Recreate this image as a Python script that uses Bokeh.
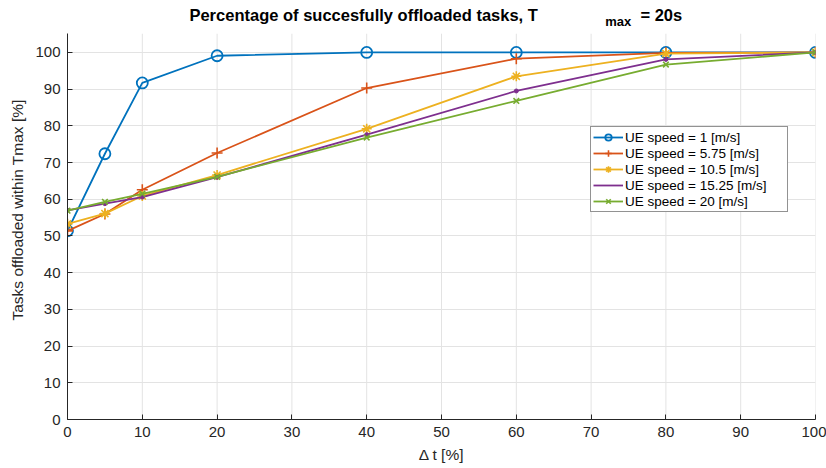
from bokeh.plotting import figure
from bokeh.models import FixedTicker, Range1d, Legend, LegendItem, Label
from bokeh.embed import file_html
from bokeh.resources import INLINE

dt = [0, 5, 10, 20, 40, 60, 80, 100]
speed_labels = ["UE speed = 1 [m/s]", "UE speed = 5.75 [m/s]", "UE speed = 10.5 [m/s]",
                "UE speed = 15.25 [m/s]", "UE speed = 20 [m/s]"]
s1 = [51.4, 72.4, 91.7, 99.1, 100.0, 100.0, 100.0, 100.0]
s575 = [51.4, 56.0, 62.6, 72.6, 90.3, 98.3, 99.9, 100.0]
s105 = [53.3, 56.1, 60.9, 66.6, 79.2, 93.5, 99.7, 100.0]
s1525 = [57.0, 58.8, 60.6, 66.0, 77.6, 89.5, 98.1, 100.0]
s20 = [56.9, 59.3, 61.5, 66.1, 76.8, 86.8, 96.7, 100.0]
series = [s1, s575, s105, s1525, s20]
x_ticks = list(range(0, 101, 10))
y_ticks = list(range(0, 101, 10))
y_axis_max = 105.1

colors = ["#0072BD", "#D95319", "#EDB120", "#7E2F8E", "#77AC30"]
markers = [("circle", 11), ("cross", 11), ("asterisk", 10), ("circle", 4), ("x", 8)]

FONT = "Liberation Sans"
TXT = "#262626"
GRID = "#e3e3e3"

# frame extends to the top of the canvas so the title (drawn as labels) is not clipped
p = figure(width=826, height=468, output_backend="svg", toolbar_location=None,
           x_range=Range1d(0, 100), y_range=Range1d(0, 114.15),
           min_border_left=67, min_border_right=11, min_border_top=0, min_border_bottom=49)
p.outline_line_color = None
p.background_fill_color = "white"

for ax, ticks in ((p.xaxis, x_ticks), (p.yaxis, y_ticks)):
    ax.ticker = FixedTicker(ticks=ticks)
    ax.major_tick_in = 5
    ax.major_tick_out = 0
    ax.minor_tick_line_color = None
    ax.axis_line_color = TXT
    ax.major_tick_line_color = TXT
    ax.major_label_text_color = TXT
    ax.major_label_text_font = FONT
    ax.major_label_text_font_size = "15px"
    ax.axis_label_text_font = FONT
    ax.axis_label_text_font_size = "15.5px"
    ax.axis_label_text_font_style = "normal"
    ax.axis_label_text_color = TXT
    ax.major_label_standoff = 7

p.yaxis.bounds = (0, y_axis_max)
p.xaxis.axis_label = "Δ t [%]"
p.yaxis.axis_label = "Tasks offloaded within Tmax [%]"
p.xaxis.axis_label_standoff = 6
p.yaxis.axis_label_standoff = 6

p.xgrid.visible = False
p.ygrid.ticker = FixedTicker(ticks=y_ticks)
p.ygrid.grid_line_color = GRID
p.ygrid.grid_line_width = 1
# vertical grid lines, stopping at the top of the axes box
p.segment(x0=x_ticks, y0=[0] * len(x_ticks), x1=x_ticks, y1=[y_axis_max] * len(x_ticks),
          line_color=GRID, line_width=1, level="underlay")

items = []
for ys, col, (mk, sz), lab in zip(series, colors, markers, speed_labels):
    ln = p.line(dt, ys, line_color=col, line_width=1.8)
    if mk == "circle" and sz > 5:
        sc = p.scatter(dt, ys, marker="circle", size=sz, fill_color=None, line_color=col, line_width=1.8)
        rs = [ln, sc]
    elif mk == "circle":
        sc = p.scatter(dt, ys, marker="circle", size=sz, fill_color=col, line_color=col)
        rs = [ln]
    else:
        sc = p.scatter(dt, ys, marker=mk, size=sz, fill_color=None, line_color=col, line_width=1.6)
        rs = [ln, sc]
    items.append(LegendItem(label=lab, renderers=rs))

legend = Legend(items=items, location=(523, 207))
legend.label_text_font = FONT
legend.label_text_font_size = "13.5px"
legend.label_text_color = "black"
legend.glyph_width = 30
legend.glyph_height = 16
legend.label_height = 16
legend.label_width = 160
legend.label_standoff = 2
legend.spacing = 0
legend.padding = 2
legend.margin = 0
legend.border_line_color = TXT
legend.border_line_width = 1
legend.background_fill_alpha = 1
p.add_layout(legend, "center")

t1 = Label(x=16.3, y=110.1, text="Percentage of succesfully offloaded tasks, T",
           text_font=FONT, text_font_size="16.5px", text_font_style="bold",
           text_baseline="middle", text_color="black")
t2 = Label(x=71.9, y=108.3, text="max", text_font=FONT, text_font_size="13px",
           text_font_style="bold", text_baseline="middle", text_color="black")
t3 = Label(x=76.6, y=110.1, text="= 20s", text_font=FONT, text_font_size="16.5px",
           text_font_style="bold", text_baseline="middle", text_color="black")
for t in (t1, t2, t3):
    p.add_layout(t)

open("out.html", "w").write(file_html(p, INLINE))
